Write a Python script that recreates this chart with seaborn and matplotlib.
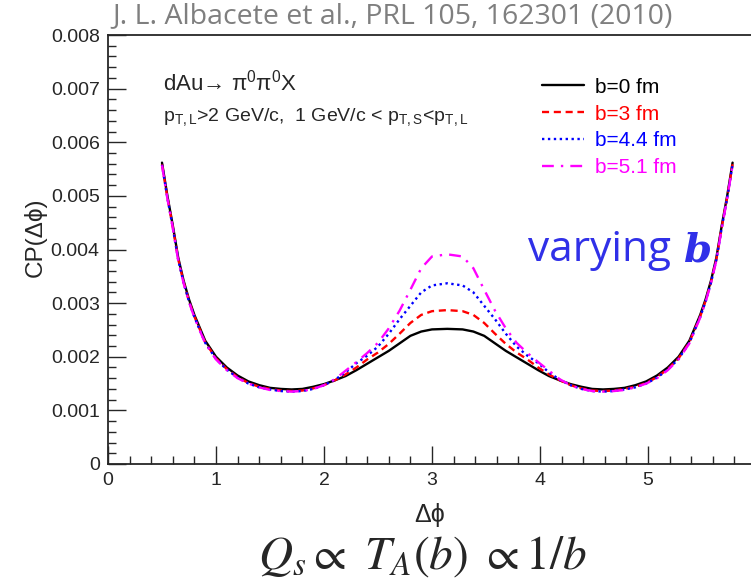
import numpy as np
import pandas as pd
import matplotlib
matplotlib.use('agg')
import matplotlib.pyplot as plt
import seaborn as sns
from matplotlib.ticker import MultipleLocator

# delta phi grid (symmetric around pi)
dphi = [0.50, 0.55, 0.60, 0.65, 0.70, 0.75, 0.80, 0.90, 1.00, 1.10, 1.20,
        1.30, 1.40, 1.50, 1.60, 1.70, 1.80, 1.90, 2.00, 2.10, 2.20, 2.30,
        2.40, 2.50, 2.60, 2.70, 2.80, 2.90, 3.00, 3.1416,
        3.2832, 3.3832, 3.4832, 3.5832, 3.6832, 3.7832, 3.8832, 3.9832,
        4.0832, 4.1832, 4.2832, 4.3832, 4.4832, 4.5832, 4.6832, 4.7832,
        4.8832, 4.9832, 5.0832, 5.1832, 5.2832, 5.3832, 5.4832, 5.5332,
        5.5832, 5.6332, 5.6832, 5.7332, 5.7832]

# CP values in units of 1e-3
cp_b0 = [5.62, 5.00, 4.45, 3.85, 3.42, 3.07, 2.78, 2.30, 2.00, 1.80, 1.65,
         1.54, 1.47, 1.42, 1.40, 1.39, 1.40, 1.44, 1.49, 1.56, 1.64, 1.75,
         1.87, 1.99, 2.11, 2.25, 2.39, 2.47, 2.51, 2.52,
         2.51, 2.47, 2.39, 2.25, 2.11, 1.99, 1.87, 1.75, 1.64, 1.56, 1.49,
         1.44, 1.40, 1.39, 1.40, 1.42, 1.47, 1.54, 1.65, 1.80, 2.00, 2.30,
         2.78, 3.07, 3.42, 3.85, 4.45, 5.00, 5.62]
cp_b3 = [5.59, 4.97, 4.42, 3.82, 3.39, 3.04, 2.75, 2.27, 1.97, 1.77, 1.62,
         1.51, 1.44, 1.40, 1.37, 1.36, 1.37, 1.41, 1.47, 1.56, 1.67, 1.80,
         1.95, 2.08, 2.24, 2.43, 2.63, 2.78, 2.85, 2.87,
         2.85, 2.78, 2.63, 2.43, 2.24, 2.08, 1.95, 1.80, 1.67, 1.56, 1.47,
         1.41, 1.37, 1.36, 1.37, 1.40, 1.44, 1.51, 1.62, 1.77, 1.97, 2.27,
         2.75, 3.04, 3.39, 3.82, 4.42, 4.97, 5.59]
cp_b44 = [5.58, 4.96, 4.41, 3.81, 3.38, 3.03, 2.74, 2.26, 1.96, 1.76, 1.61,
          1.50, 1.43, 1.39, 1.36, 1.35, 1.36, 1.40, 1.47, 1.57, 1.71, 1.88,
          2.02, 2.19, 2.43, 2.70, 2.95, 3.20, 3.33, 3.37,
          3.33, 3.20, 2.95, 2.70, 2.43, 2.19, 2.02, 1.88, 1.71, 1.57, 1.47,
          1.40, 1.36, 1.35, 1.36, 1.39, 1.43, 1.50, 1.61, 1.76, 1.96, 2.26,
          2.74, 3.03, 3.38, 3.81, 4.41, 4.96, 5.58]
cp_b51 = [5.57, 4.95, 4.40, 3.80, 3.37, 3.02, 2.73, 2.25, 1.95, 1.75, 1.60,
          1.50, 1.43, 1.38, 1.36, 1.35, 1.36, 1.40, 1.47, 1.58, 1.74, 1.90,
          2.07, 2.26, 2.53, 2.86, 3.25, 3.65, 3.87, 3.91,
          3.87, 3.65, 3.25, 2.86, 2.53, 2.26, 2.07, 1.90, 1.74, 1.58, 1.47,
          1.40, 1.36, 1.35, 1.36, 1.38, 1.43, 1.50, 1.60, 1.75, 1.95, 2.25,
          2.73, 3.02, 3.37, 3.80, 4.40, 4.95, 5.57]

labels = ["b=0 fm", "b=3 fm", "b=4.4 fm", "b=5.1 fm"]
colors = ["black", "#ff0000", "#0000ff", "#ff00ff"]
styles = ["-", (0, (3, 2)), (0, (1, 1.5)), (0, (5, 3, 1, 3))]
series = [cp_b0, cp_b3, cp_b44, cp_b51]

sns.set_style("ticks")
plt.rcParams['font.family'] = ['Liberation Sans', 'DejaVu Sans']
plt.rcParams['mathtext.fontset'] = 'custom'
plt.rcParams['mathtext.rm'] = 'Liberation Sans'
plt.rcParams['mathtext.it'] = 'Liberation Sans:italic'

fig = plt.figure(figsize=(7.51, 5.85), dpi=100)
ax = fig.add_axes([108 / 751, 121 / 585, (751 - 108) / 751, 429 / 585])

for lab, col, ls, vals in zip(labels, colors, styles, series):
    df = pd.DataFrame({"dphi": dphi, "cp": np.array(vals) * 1e-3})
    sns.lineplot(data=df, x="dphi", y="cp", color=col, linestyle=ls,
                 linewidth=1.7, label=lab, ax=ax, sort=False)

ax.set_xlim(0, (751 - 108) / 108)
ax.set_ylim(0, 0.008)
ax.xaxis.set_major_locator(MultipleLocator(1))
ax.xaxis.set_minor_locator(MultipleLocator(0.2))
ax.yaxis.set_major_locator(MultipleLocator(0.001))
ax.yaxis.set_minor_locator(MultipleLocator(0.0002))
ax.yaxis.set_major_formatter(plt.FuncFormatter(
    lambda v, p: "0" if abs(v) < 1e-9 else "%.3f" % v))
ax.tick_params(which='major', direction='in', length=13, width=1,
               labelsize=14, pad=6)
ax.tick_params(which='minor', direction='in', length=6, width=1)
ax.tick_params(axis='x', top=False)
for s in ["left", "bottom", "top"]:
    ax.spines[s].set_linewidth(1.3)
ax.spines["right"].set_visible(False)

ax.set_xlabel("Δϕ", fontsize=18, labelpad=10)
ax.set_ylabel("CP(Δϕ)", fontsize=17.5)
ax.yaxis.set_label_coords(-0.095, 0.529)

leg = ax.legend(loc='upper left', bbox_to_anchor=(426 / 643, 0.92),
                frameon=False, fontsize=15, handlelength=2.0,
                handletextpad=0.55, labelspacing=0.38, labelcolor='linecolor',
                borderaxespad=0)

ax.text(55 / 643, 0.890, "dAu→ π$^{0}$π$^{0}$X",
        transform=ax.transAxes, fontsize=16, va='center')
ax.text(55 / 643, 0.809,
        r"$\mathrm{p_{T,L}}$>2 GeV/c,  1 GeV/c < $\mathrm{p_{T,S}}$<$\mathrm{p_{T,L}}$",
        transform=ax.transAxes, fontsize=14, va='center')

fig.text(112 / 751, 1 - 16 / 585, "J. L. Albacete et al., PRL 105, 162301 (2010)",
         family='Open Sans', fontsize=20.5, color='#7f7f7f', va='center')
fig.text(528 / 751, 1 - 250 / 585, "varying", family='Open Sans',
         fontsize=30.5, color='#3030e8', va='center')
fig.text(684 / 751, 1 - 250 / 585, "b", family='DejaVu Serif', weight='bold',
         style='italic', fontsize=29, color='#3030e8', va='center')
fig.text(422 / 751, 1 - 557 / 585, r"$Q_s \propto\ T_A(b)\ \propto 1/b$",
         math_fontfamily='stix', fontsize=34, ha='center', va='center')

plt.savefig("out.png", dpi=100)
